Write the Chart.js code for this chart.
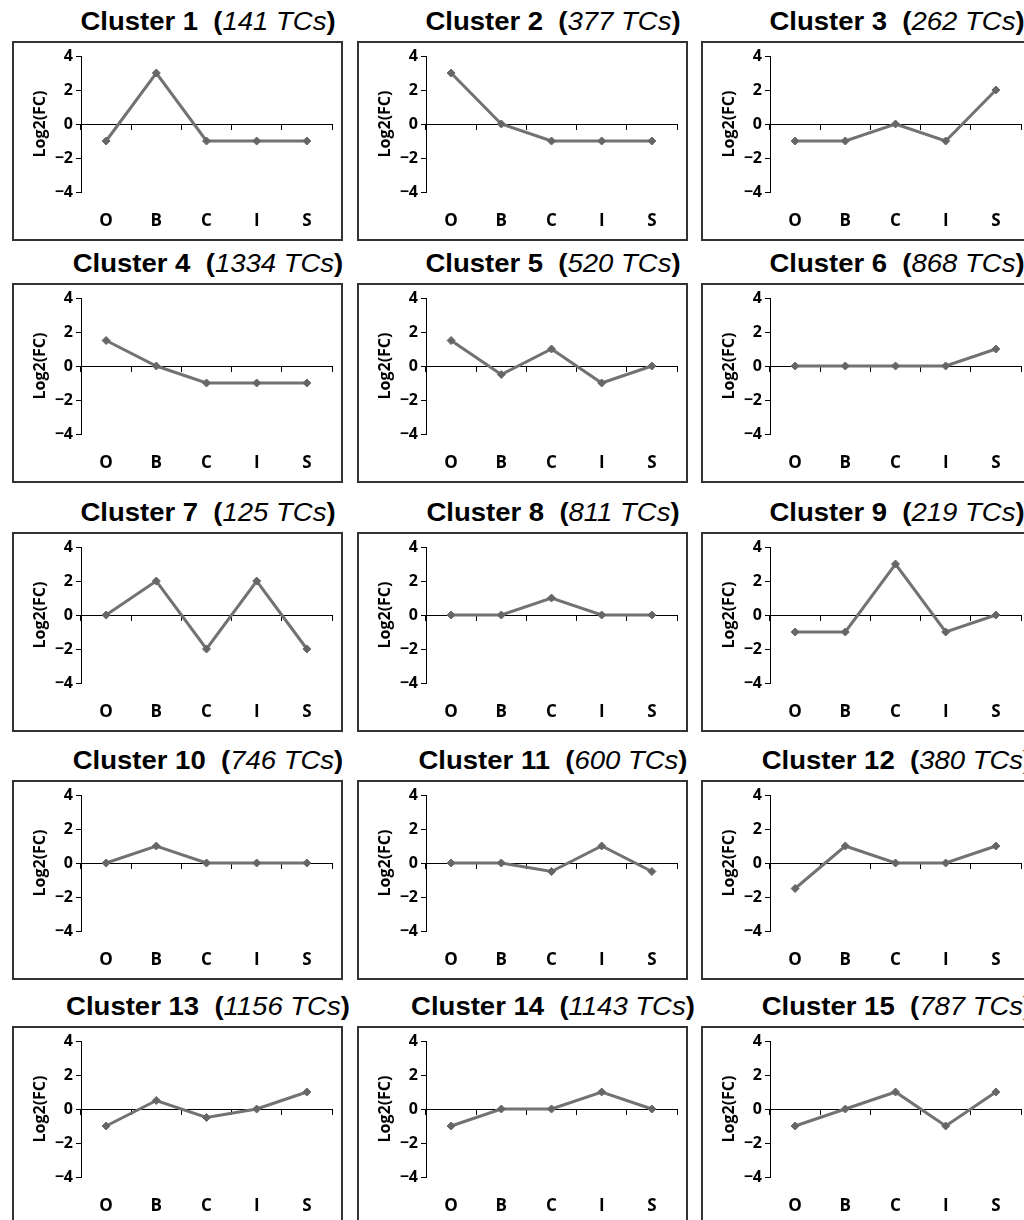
<!DOCTYPE html>
<html>
<head>
<meta charset="utf-8">
<script src="https://cdn.jsdelivr.net/npm/chart.js@4.4.1/dist/chart.umd.min.js"></script>
<style>
    body { margin: 0; width: 1024px; height: 1220px; overflow: hidden; background: #fff; position: relative; }
    .box { position: absolute; box-sizing: border-box; border: 2px solid #333; }
    .box canvas { position: absolute; left: -2px; top: -2px; }
    .title {
        position: absolute; white-space: nowrap; height: 30px; line-height: 30px;
        font-family: "Liberation Sans", Arial, sans-serif; font-size: 25px; color: #000;
        transform: translateX(-50%) scaleX(1.1);
    }
    .title b { font-weight: bold; }
    .title i { font-style: italic; font-weight: normal; }
</style>
</head>
<body>
<script>
// x categories and y range
const categories = ['O', 'B', 'C', 'I', 'S'];
const yMin = -4;
const yMax = 4;
const yStep = 2;

// number of TCs in each cluster
const tcCounts = [141, 377, 262, 1334, 520, 868, 125, 811, 219, 746, 600, 380, 1156, 1143, 787];

// log2 fold change profile per cluster (O, B, C, I, S)
const cluster1 = [-1, 3, -1, -1, -1];
const cluster2 = [3, 0, -1, -1, -1];
const cluster3 = [-1, -1, 0, -1, 2];
const cluster4 = [1.5, 0, -1, -1, -1];
const cluster5 = [1.5, -0.5, 1, -1, 0];
const cluster6 = [0, 0, 0, 0, 1];
const cluster7 = [0, 2, -2, 2, -2];
const cluster8 = [0, 0, 1, 0, 0];
const cluster9 = [-1, -1, 3, -1, 0];
const cluster10 = [0, 1, 0, 0, 0];
const cluster11 = [0, 0, -0.5, 1, -0.5];
const cluster12 = [-1.5, 1, 0, 0, 1];
const cluster13 = [-1, 0.5, -0.5, 0, 1];
const cluster14 = [-1, 0, 0, 1, 0];
const cluster15 = [-1, 0, 1, -1, 1];

const profiles = [cluster1, cluster2, cluster3, cluster4, cluster5, cluster6, cluster7, cluster8,
    cluster9, cluster10, cluster11, cluster12, cluster13, cluster14, cluster15];

// panel grid
const colLeft = [12, 357, 701];
const rowTop = [41, 283, 532, 780, 1026];
const boxW = 331;
const boxH = 200;

const tickFont = { family: "'Open Sans', sans-serif", size: 16, weight: 'bold' };

function makePanel(idx) {
    const left = colLeft[idx % 3];
    const top = rowTop[Math.floor(idx / 3)];

    const title = document.createElement('div');
    title.className = 'title';
    title.style.left = (left + 69 + 127) + 'px';
    title.style.top = (top - 35) + 'px';
    title.innerHTML = `<b>Cluster ${idx + 1}</b>&nbsp; <b>(</b><i>${tcCounts[idx]} TCs</i><b>)</b>`;
    document.body.appendChild(title);

    const box = document.createElement('div');
    box.className = 'box';
    box.style.left = left + 'px';
    box.style.top = top + 'px';
    box.style.width = boxW + 'px';
    box.style.height = boxH + 'px';
    const canvas = document.createElement('canvas');
    canvas.width = boxW;
    canvas.height = boxH;
    box.appendChild(canvas);
    document.body.appendChild(box);

    new Chart(canvas.getContext('2d'), {
        type: 'line',
        data: {
            labels: categories,
            datasets: [{
                data: profiles[idx],
                borderColor: '#727272',
                borderWidth: 3,
                pointStyle: 'rectRot',
                pointRadius: 4,
                pointBackgroundColor: '#666',
                pointBorderColor: '#666',
                pointBorderWidth: 1,
                tension: 0
            }]
        },
        options: {
            responsive: false,
            animation: false,
            layout: { padding: { left: 11, right: 11, top: 15, bottom: 0 } },
            plugins: { legend: { display: false }, tooltip: { enabled: false } },
            scales: {
                x: {
                    type: 'category',
                    position: 'bottom',
                    offset: true,
                    grid: { display: false, drawTicks: false },
                    border: { display: false },
                    ticks: { color: '#000', padding: 19, font: { ...tickFont, size: 17 } },
                    afterFit: s => { s.height = 49; }
                },
                x2: {
                    type: 'category',
                    axis: 'x',
                    position: { y: 0 },
                    offset: true,
                    grid: { display: true, offset: true, drawOnChartArea: false, drawTicks: true, tickLength: 5, color: '#000', lineWidth: 1 },
                    border: { display: true, color: '#000', width: 1 },
                    ticks: { display: false }
                },
                y: {
                    min: yMin,
                    max: yMax,
                    grid: { drawOnChartArea: false, drawTicks: true, tickLength: 5, color: '#000' },
                    border: { color: '#000', width: 1 },
                    ticks: {
                        stepSize: yStep,
                        color: '#000',
                        padding: 3,
                        font: tickFont,
                        callback: v => String(v).replace('-', '\u2212')
                    },
                    title: {
                        display: true,
                        text: 'Log2(FC)',
                        color: '#000',
                        font: tickFont,
                        padding: { top: 8, bottom: 0 }
                    },
                    afterFit: s => { s.width = 58; }
                }
            }
        }
    });
}

for (let i = 0; i < profiles.length; i++) {
    makePanel(i);
}
</script>
</body>
</html>
